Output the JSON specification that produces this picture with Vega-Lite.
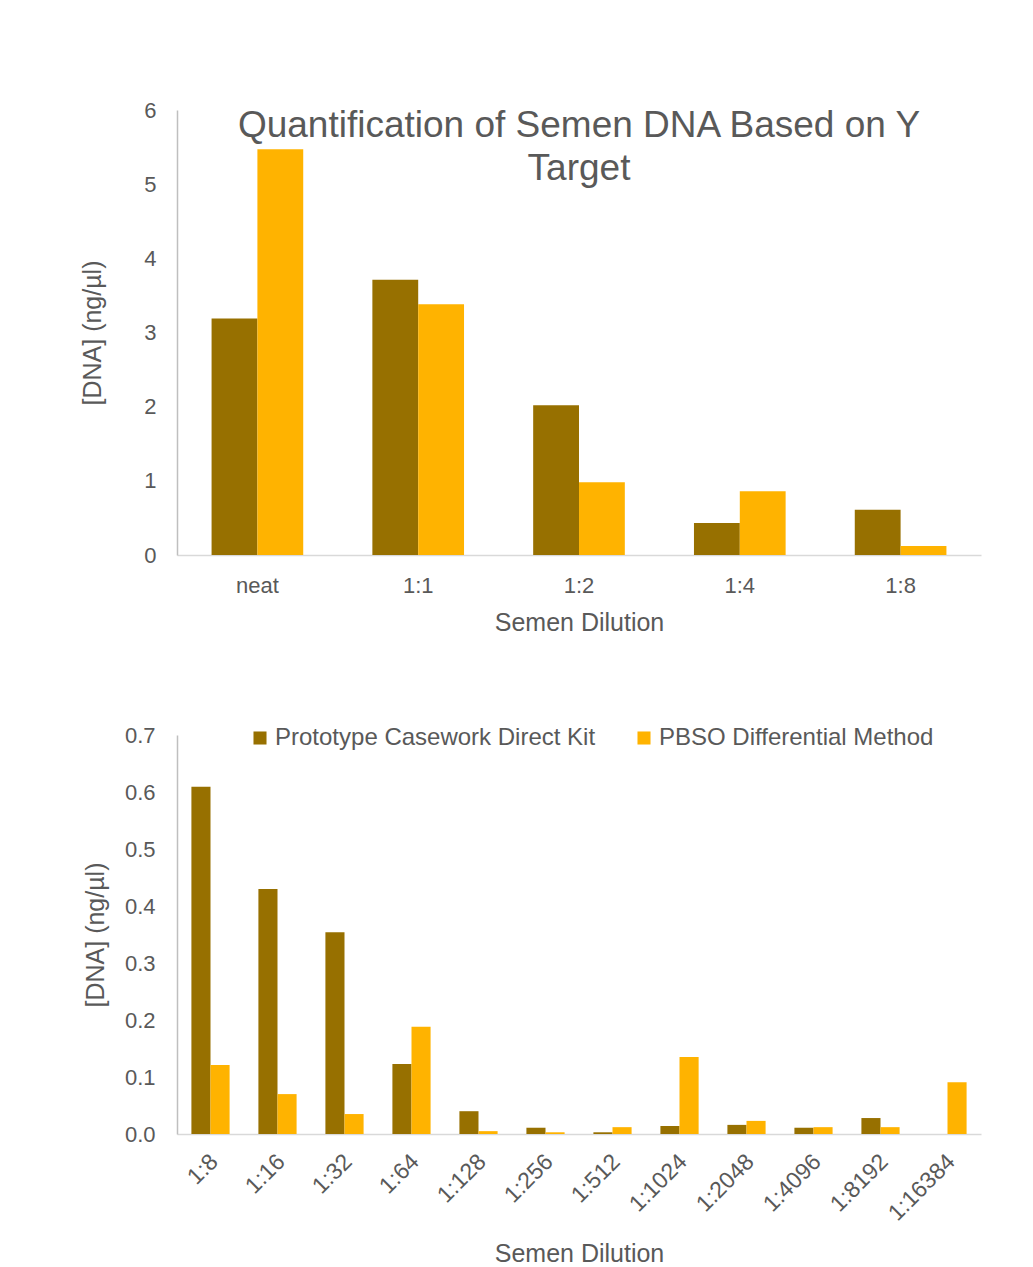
{
  "$schema": "https://vega.github.io/schema/vega-lite/v6.json",
  "padding": {"left": 80, "top": 99, "right": 5, "bottom": 5},
  "background": "white",
  "spacing": 89,
  "config": {
    "font": "Liberation Sans",
    "view": {"stroke": null},
    "axis": {
      "labelColor": "#595959", "titleColor": "#595959",
      "labelFont": "Liberation Sans", "titleFont": "Liberation Sans",
      "labelFontSize": 22, "titleFontSize": 25, "titleFontWeight": "normal",
      "ticks": false, "grid": false, "domainColor": "#D9D9D9", "domainWidth": 1.5
    },
    "legend": {
      "labelFont": "Liberation Sans", "labelFontSize": 24, "labelColor": "#595959", "labelLimit": 600,
      "symbolType": "square", "symbolSize": 150, "symbolStrokeWidth": 0, "padding": 0
    }
  },
  "resolve": {"scale": {"color": "independent", "xOffset": "independent", "x": "independent", "y": "independent"}},
  "datasets": {
    "top": [
      {"dilution": "neat", "method": "Prototype Casework Direct Kit", "value": 3.19},
      {"dilution": "neat", "method": "PBSO Differential Method", "value": 5.47},
      {"dilution": "1:1", "method": "Prototype Casework Direct Kit", "value": 3.71},
      {"dilution": "1:1", "method": "PBSO Differential Method", "value": 3.38},
      {"dilution": "1:2", "method": "Prototype Casework Direct Kit", "value": 2.02},
      {"dilution": "1:2", "method": "PBSO Differential Method", "value": 0.98},
      {"dilution": "1:4", "method": "Prototype Casework Direct Kit", "value": 0.43},
      {"dilution": "1:4", "method": "PBSO Differential Method", "value": 0.86},
      {"dilution": "1:8", "method": "Prototype Casework Direct Kit", "value": 0.61},
      {"dilution": "1:8", "method": "PBSO Differential Method", "value": 0.12}
    ],
    "bottom": [
      {"dilution": "1:8", "method": "Prototype Casework Direct Kit", "value": 0.609},
      {"dilution": "1:8", "method": "PBSO Differential Method", "value": 0.121},
      {"dilution": "1:16", "method": "Prototype Casework Direct Kit", "value": 0.430},
      {"dilution": "1:16", "method": "PBSO Differential Method", "value": 0.070},
      {"dilution": "1:32", "method": "Prototype Casework Direct Kit", "value": 0.354},
      {"dilution": "1:32", "method": "PBSO Differential Method", "value": 0.035},
      {"dilution": "1:64", "method": "Prototype Casework Direct Kit", "value": 0.123},
      {"dilution": "1:64", "method": "PBSO Differential Method", "value": 0.188},
      {"dilution": "1:128", "method": "Prototype Casework Direct Kit", "value": 0.040},
      {"dilution": "1:128", "method": "PBSO Differential Method", "value": 0.005},
      {"dilution": "1:256", "method": "Prototype Casework Direct Kit", "value": 0.011},
      {"dilution": "1:256", "method": "PBSO Differential Method", "value": 0.003},
      {"dilution": "1:512", "method": "Prototype Casework Direct Kit", "value": 0.003},
      {"dilution": "1:512", "method": "PBSO Differential Method", "value": 0.012},
      {"dilution": "1:1024", "method": "Prototype Casework Direct Kit", "value": 0.014},
      {"dilution": "1:1024", "method": "PBSO Differential Method", "value": 0.135},
      {"dilution": "1:2048", "method": "Prototype Casework Direct Kit", "value": 0.016},
      {"dilution": "1:2048", "method": "PBSO Differential Method", "value": 0.023},
      {"dilution": "1:4096", "method": "Prototype Casework Direct Kit", "value": 0.011},
      {"dilution": "1:4096", "method": "PBSO Differential Method", "value": 0.012},
      {"dilution": "1:8192", "method": "Prototype Casework Direct Kit", "value": 0.028},
      {"dilution": "1:8192", "method": "PBSO Differential Method", "value": 0.012},
      {"dilution": "1:16384", "method": "Prototype Casework Direct Kit", "value": 0},
      {"dilution": "1:16384", "method": "PBSO Differential Method", "value": 0.091}
    ]
  },
  "vconcat": [
    {
      "width": 804, "height": 445,
      "data": {"name": "top"},
      "title": {
        "text": ["Quantification of Semen DNA Based on Y", "Target"],
        "fontSize": 37, "font": "Liberation Sans", "fontWeight": "normal",
        "color": "#595959", "offset": -89, "anchor": "middle", "lineHeight": 43
      },
      "mark": {"type": "bar"},
      "encoding": {
        "x": {
          "field": "dilution", "type": "nominal", "sort": null,
          "scale": {"paddingInner": 0.43, "paddingOuter": 0.215},
          "axis": {"labelAngle": 0, "labelPadding": 20, "title": "Semen Dilution", "titlePadding": 14}
        },
        "xOffset": {"field": "method", "type": "nominal", "sort": ["Prototype Casework Direct Kit", "PBSO Differential Method"]},
        "y": {
          "field": "value", "type": "quantitative",
          "scale": {"domain": [0, 6]},
          "axis": {"values": [0, 1, 2, 3, 4, 5, 6], "title": "[DNA] (ng/µl)", "labelPadding": 21, "titlePadding": 38, "domainColor": "#BFBFBF"}
        },
        "color": {
          "field": "method", "type": "nominal",
          "scale": {"domain": ["Prototype Casework Direct Kit", "PBSO Differential Method"], "range": ["#977000", "#FFB300"]},
          "legend": null
        }
      }
    },
    {
      "width": 804, "height": 399,
      "data": {"name": "bottom"},
      "mark": {"type": "bar"},
      "encoding": {
        "x": {
          "field": "dilution", "type": "nominal", "sort": null,
          "scale": {"paddingInner": 0.43, "paddingOuter": 0.215},
          "axis": {"labelAngle": -45, "labelFontSize": 23, "labelPadding": 16, "labelOffset": -4, "title": "Semen Dilution", "titlePadding": 16}
        },
        "xOffset": {"field": "method", "type": "nominal", "sort": ["Prototype Casework Direct Kit", "PBSO Differential Method"]},
        "y": {
          "field": "value", "type": "quantitative",
          "scale": {"domain": [0, 0.7]},
          "axis": {"values": [0, 0.1, 0.2, 0.3, 0.4, 0.5, 0.6, 0.7], "format": ".1f", "title": "[DNA] (ng/µl)", "labelPadding": 22, "titlePadding": 16, "domainColor": "#BFBFBF"}
        },
        "color": {
          "field": "method", "type": "nominal",
          "scale": {"domain": ["Prototype Casework Direct Kit", "PBSO Differential Method"], "range": ["#977000", "#FFB300"]},
          "legend": {"title": null, "orient": "none", "direction": "horizontal", "legendX": 71, "legendY": -9, "columnPadding": 36, "labelOffset": 3, "symbolSize": 170}
        }
      }
    }
  ]
}
